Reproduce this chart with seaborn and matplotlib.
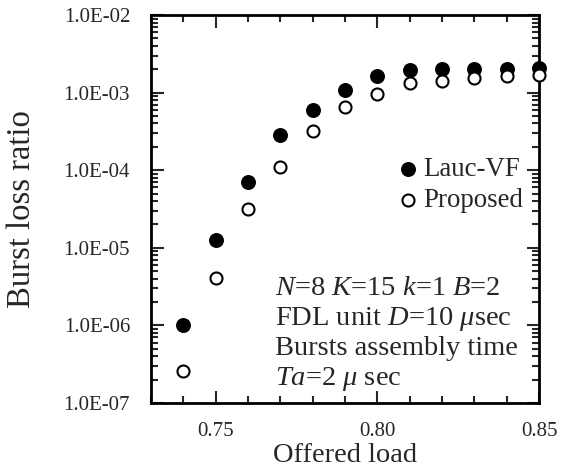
import pandas as pd
import numpy as np
import matplotlib
matplotlib.use('Agg')
import matplotlib.pyplot as plt
import matplotlib.ticker as mticker
import seaborn as sns

# dados
carga = [0.74, 0.75, 0.76, 0.77, 0.78, 0.79, 0.80, 0.81, 0.82, 0.83, 0.84, 0.85]
lauc_vf = [1.0e-6, 1.27e-5, 7.0e-5, 2.85e-4, 6.0e-4, 1.09e-3, 1.65e-3, 1.97e-3, 2.0e-3, 2.0e-3, 2.03e-3, 2.05e-3]
proposto = [2.55e-7, 4.1e-6, 3.15e-5, 1.11e-4, 3.2e-4, 6.5e-4, 0.97e-3, 1.32e-3, 1.41e-3, 1.54e-3, 1.64e-3, 1.69e-3]
ytick_vals = [1e-7, 1e-6, 1e-5, 1e-4, 1e-3, 1e-2]
ytick_labels = ['1.0E-07', '1.0E-06', '1.0E-05', '1.0E-04', '1.0E-03', '1.0E-02']
xtick_vals = [0.75, 0.80, 0.85]
xtick_labels = ['0.75', '0.80', '0.85']

dados = pd.DataFrame({'Offered load': carga, 'Lauc-VF': lauc_vf, 'Proposed': proposto})

sns.set_style('ticks')
plt.rcParams['font.family'] = ['Liberation Serif', 'DejaVu Serif']
plt.rcParams['mathtext.fontset'] = 'custom'
plt.rcParams['mathtext.rm'] = 'Liberation Serif'
plt.rcParams['mathtext.it'] = 'Liberation Serif:italic'

fig = plt.figure(figsize=(5.61, 4.72), dpi=100)
ax = fig.add_axes([151 / 561, 1 - 403 / 472, (539 - 151) / 561, (403 - 15) / 472])

sns.scatterplot(data=dados, x='Offered load', y='Lauc-VF', ax=ax, color='black',
                s=95, edgecolor='black', linewidth=1, label='Lauc-VF', zorder=3, clip_on=False)
sns.scatterplot(data=dados, x='Offered load', y='Proposed', ax=ax, color='white',
                s=75, edgecolor='black', linewidth=1.5, label='Proposed', zorder=3, clip_on=False)

ax.set_yscale('log')
ax.set_xlim(0.73, 0.85)
ax.set_ylim(1e-7, 1e-2)
ax.set_yticks(ytick_vals)
ax.set_yticklabels(ytick_labels)
ax.yaxis.set_minor_locator(mticker.LogLocator(base=10, subs=np.arange(2, 10)))
ax.yaxis.set_minor_formatter(mticker.NullFormatter())
ax.set_xticks(xtick_vals)
ax.set_xticklabels(xtick_labels)
ax.xaxis.set_minor_locator(mticker.MultipleLocator(0.01))

ax.tick_params(which='both', direction='in', top=True, right=True, width=1.5, labelsize=15)
ax.tick_params(which='major', length=9)
ax.tick_params(which='minor', length=5)
ax.tick_params(axis='x', which='major', pad=14)
ax.tick_params(axis='y', which='major', pad=15)
for sp in ax.spines.values():
    sp.set_linewidth(2)
    sp.set_color('black')

ax.set_xlabel('Offered load', fontsize=20.5, labelpad=1)
ax.set_ylabel('Burst loss ratio', fontsize=23.5, labelpad=19)

ax.legend(loc='center right', bbox_to_anchor=(1.0, 0.562), frameon=False, fontsize=19.4,
          handletextpad=0.05, borderaxespad=0.2, labelspacing=0.25, handlelength=1.0)

texto = ('$N$=8 $K$=15 $k$=1 $B$=2\n'
         'FDL unit $D$=10 $\\mu$sec\n'
         'Bursts assembly time\n'
         '$Ta$=2 $\\mu$ sec')
ax.text(0.320, 0.027, texto, transform=ax.transAxes, fontsize=20.5, ha='left', va='bottom',
        linespacing=1.17)

fig.savefig('out.png', dpi=100)
